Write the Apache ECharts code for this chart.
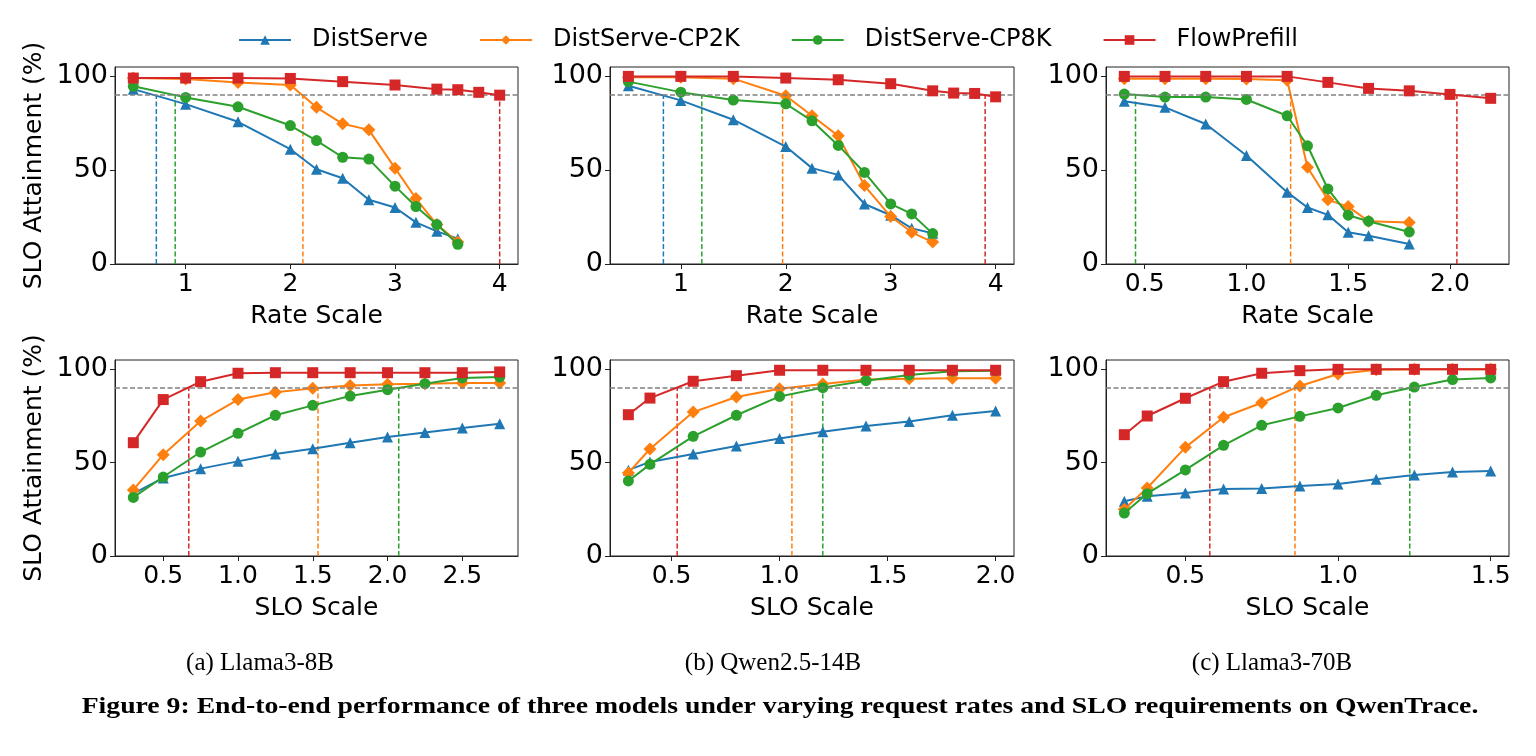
<!DOCTYPE html>
<html>
<head>
<meta charset="utf-8">
<script src="https://cdn.jsdelivr.net/npm/echarts@6.0.0/dist/echarts.min.js"></script>
<style>
  html, body { margin: 0; padding: 0; background: #fff; }
  #chart { width: 1536px; height: 756px; }
</style>
</head>
<body>
<div id="chart"></div>
<script>
// series names / colours (matplotlib tab10)
const names = ["DistServe", "DistServe-CP2K", "DistServe-CP8K", "FlowPrefill"];
const colors = ["#1f77b4", "#ff7f0e", "#2ca02c", "#d62728"];
const symbols = ["triangle", "diamond", "circle", "rect"];

// (a) Llama3-8B, rate scale
const xRate8B = [0.5, 1, 1.5, 2, 2.25, 2.5, 2.75, 3, 3.2, 3.4, 3.6];
const xRate8BFlow = [0.5, 1, 1.5, 2, 2.5, 3, 3.4, 3.6, 3.8, 4];
const distRate8B = [93.2, 85.2, 75.8, 61.2, 50.5, 45.7, 34.2, 30.1, 22.2, 17.4, 13.5];
const cp2kRate8B = [99.1, 98.6, 96.8, 95.4, 83.5, 74.7, 71.5, 51.1, 34.9, 21.0, 11.7];
const cp8kRate8B = [94.7, 88.8, 83.8, 73.8, 65.8, 56.9, 55.9, 41.5, 30.6, 21.0, 10.5];
const flowRate8B = [99.1, 99.1, 99.1, 98.9, 97.2, 95.4, 93.2, 92.9, 91.5, 90.0];
const kneeRate8B = [0.72, 2.12, 0.9, 4.0];

// (b) Qwen2.5-14B, rate scale
const xRate14B = [0.5, 1, 1.5, 2, 2.25, 2.5, 2.75, 3, 3.2, 3.4];
const xRate14BFlow = [0.5, 1, 1.5, 2, 2.5, 3, 3.4, 3.6, 3.8, 4];
const distRate14B = [95.0, 87.2, 76.9, 62.6, 51.1, 47.5, 32.0, 26.0, 19.0, 16.4];
const cp2kRate14B = [99.6, 99.5, 98.8, 89.7, 79.0, 68.3, 41.8, 25.3, 16.9, 11.7];
const cp8kRate14B = [97.2, 91.6, 87.4, 85.4, 76.3, 63.2, 48.8, 32.0, 26.7, 16.2];
const flowRate14B = [100, 100, 100, 99.1, 98.2, 96.1, 92.3, 91.1, 90.9, 89.1];
const kneeRate14B = [0.834, 1.97, 1.2, 3.9];

// (c) Llama3-70B, rate scale
const xRate70B = [0.4, 0.6, 0.8, 1.0, 1.2, 1.3, 1.4, 1.5, 1.6, 1.8];
const xRate70BFlow = [0.4, 0.6, 0.8, 1.0, 1.2, 1.4, 1.6, 1.8, 2.0, 2.2];
const distRate70B = [86.7, 83.5, 74.6, 57.8, 38.3, 30.1, 26.2, 16.9, 15.1, 10.7];
const cp2kRate70B = [98.8, 98.8, 98.8, 98.6, 97.9, 51.6, 34.2, 30.6, 22.8, 22.1];
const cp8kRate70B = [90.6, 89.0, 89.0, 87.7, 79.0, 63.0, 40.0, 26.0, 22.8, 17.1];
const flowRate70B = [100, 100, 100, 100, 100, 96.8, 93.6, 92.3, 90.4, 88.3];
const kneeRate70B = [null, 1.217, 0.455, 2.034];

// (a) Llama3-8B, SLO scale
const xSlo8B = [0.3, 0.5, 0.75, 1.0, 1.25, 1.5, 1.75, 2.0, 2.25, 2.5, 2.75];
const distSlo8B = [33.4, 41.8, 46.8, 50.7, 54.6, 57.5, 60.7, 63.8, 66.1, 68.6, 70.9];
const cp2kSlo8B = [35.4, 54.3, 72.3, 83.8, 87.7, 89.8, 91.4, 92.0, 92.3, 92.7, 92.7];
const cp8kSlo8B = [31.4, 42.3, 55.7, 65.7, 75.4, 80.7, 85.7, 89.1, 92.3, 95.4, 95.9];
const flowSlo8B = [60.7, 83.8, 93.4, 97.9, 98.2, 98.2, 98.2, 98.2, 98.2, 98.2, 98.6];
const kneeSlo8B = [null, 1.535, 2.075, 0.671];

// (b) Qwen2.5-14B, SLO scale
const xSlo14B = [0.3, 0.4, 0.6, 0.8, 1.0, 1.2, 1.4, 1.6, 1.8, 2.0];
const distSlo14B = [46.0, 50.4, 54.6, 58.9, 62.9, 66.6, 69.6, 72.1, 75.4, 77.7];
const cp2kSlo14B = [44.5, 57.3, 77.1, 85.2, 89.6, 92.1, 94.6, 95.0, 95.2, 95.2];
const cp8kSlo14B = [40.2, 49.1, 64.1, 75.4, 85.5, 90.2, 93.9, 97.0, 99.0, 99.3];
const flowSlo14B = [75.7, 84.6, 93.6, 96.6, 99.5, 99.5, 99.5, 99.5, 99.5, 99.5];
const kneeSlo14B = [null, 1.057, 1.2, 0.526];

// (c) Llama3-70B, SLO scale
const xSlo70B = [0.3, 0.375, 0.5, 0.625, 0.75, 0.875, 1.0, 1.125, 1.25, 1.375, 1.5];
const distSlo70B = [29.3, 32.0, 33.8, 35.9, 36.1, 37.5, 38.6, 41.1, 43.4, 45.0, 45.5];
const cp2kSlo70B = [25.0, 36.4, 58.2, 74.3, 82.1, 91.1, 97.5, 99.8, 100, 100, 100];
const cp8kSlo70B = [23.0, 33.4, 46.1, 59.3, 70.0, 74.8, 79.3, 86.1, 90.5, 94.5, 95.4];
const flowSlo70B = [65.0, 75.0, 84.5, 93.4, 97.9, 99.3, 100, 100, 100, 100, 100];
const kneeSlo70B = [null, 0.859, 1.235, 0.58];

// tick labels
const ticksRate = [1, 2, 3, 4];
const ticksRate70B = [0.5, 1.0, 1.5, 2.0];
const ticksSlo8B = [0.5, 1.0, 1.5, 2.0, 2.5];
const ticksSlo14B = [0.5, 1.0, 1.5, 2.0];
const ticksSlo70B = [0.5, 1.0, 1.5];
const yTicks = [0, 50, 100];
const target = 90;

const subCaptions = ["(a) Llama3-8B", "(b) Qwen2.5-14B", "(c) Llama3-70B"];
const caption = "Figure 9: End-to-end performance of three models under varying request rates and SLO requirements on QwenTrace.";

const panels = [
  { xs: [xRate8B, xRate8B, xRate8B, xRate8BFlow], ys: [distRate8B, cp2kRate8B, cp8kRate8B, flowRate8B], knee: kneeRate8B, ticks: ticksRate, dec: 0, xname: "Rate Scale" },
  { xs: [xRate14B, xRate14B, xRate14B, xRate14BFlow], ys: [distRate14B, cp2kRate14B, cp8kRate14B, flowRate14B], knee: kneeRate14B, ticks: ticksRate, dec: 0, xname: "Rate Scale" },
  { xs: [xRate70B, xRate70B, xRate70B, xRate70BFlow], ys: [distRate70B, cp2kRate70B, cp8kRate70B, flowRate70B], knee: kneeRate70B, ticks: ticksRate70B, dec: 1, xname: "Rate Scale" },
  { xs: [xSlo8B, xSlo8B, xSlo8B, xSlo8B], ys: [distSlo8B, cp2kSlo8B, cp8kSlo8B, flowSlo8B], knee: kneeSlo8B, ticks: ticksSlo8B, dec: 1, xname: "SLO Scale" },
  { xs: [xSlo14B, xSlo14B, xSlo14B, xSlo14B], ys: [distSlo14B, cp2kSlo14B, cp8kSlo14B, flowSlo14B], knee: kneeSlo14B, ticks: ticksSlo14B, dec: 1, xname: "SLO Scale" },
  { xs: [xSlo70B, xSlo70B, xSlo70B, xSlo70B], ys: [distSlo70B, cp2kSlo70B, cp8kSlo70B, flowSlo70B], knee: kneeSlo70B, ticks: ticksSlo70B, dec: 1, xname: "SLO Scale" },
];

const colLeft = [115, 610, 1106];
const colWidth = [403, 404, 403];
const rowTop = [67, 360];
const rowHeight = [197, 196];
const font = "DejaVu Sans";
const axisColor = "#222";

const grids = [], xAxes = [], yAxes = [], series = [];

panels.forEach((p, i) => {
  const row = Math.floor(i / 3), col = i % 3;
  grids.push({
    left: colLeft[col], top: rowTop[row], width: colWidth[col], height: rowHeight[row],
    show: true, borderColor: axisColor, borderWidth: 1, backgroundColor: "transparent",
  });

  // matplotlib-like 5% x margin
  const all = [].concat(...p.xs);
  const lo = Math.min(...all), hi = Math.max(...all), pad = (hi - lo) * 0.05;

  xAxes.push({
    type: "value", gridIndex: i, min: lo - pad, max: hi + pad,
    axisLine: { show: true, onZero: false, lineStyle: { color: axisColor, width: 1 } },
    axisTick: { show: true, length: 5, customValues: p.ticks, lineStyle: { color: axisColor } },
    axisLabel: { customValues: p.ticks, formatter: (v) => v.toFixed(p.dec), color: "#000", fontSize: 25, fontFamily: font, margin: 8 },
    splitLine: { show: false },
    name: p.xname, nameLocation: "middle", nameGap: 40,
    nameTextStyle: { color: "#000", fontSize: 25, fontFamily: font },
  });

  yAxes.push({
    type: "value", gridIndex: i, min: 0, max: 105,
    axisLine: { show: true, onZero: false, lineStyle: { color: axisColor, width: 1 } },
    axisTick: { show: true, length: 5, customValues: yTicks, lineStyle: { color: axisColor } },
    axisLabel: { customValues: yTicks, color: "#000", fontSize: 27, fontFamily: font, margin: 7 },
    splitLine: { show: false },
    name: col === 0 ? "SLO Attainment (%)" : "", nameLocation: "middle", nameGap: 68, nameRotate: 90,
    nameTextStyle: { color: "#000", fontSize: 25, fontFamily: font },
  });

  // knee markers: dashed verticals from 0 up to the 90% target
  p.knee.forEach((k, s) => {
    if (k == null) return;
    series.push({
      type: "line", xAxisIndex: i, yAxisIndex: i, data: [[k, 0], [k, target]],
      symbol: "none", silent: true, z: 1,
      lineStyle: { color: colors[s], width: 1.5, type: [5, 2.5] },
    });
  });

  names.forEach((n, s) => {
    series.push({
      name: n, type: "line", xAxisIndex: i, yAxisIndex: i,
      data: p.xs[s].map((x, j) => [x, p.ys[s][j]]),
      symbol: symbols[s], symbolSize: s === 1 ? 13 : 11,
      itemStyle: { color: colors[s], borderWidth: 0 },
      lineStyle: { color: colors[s], width: 2 },
      z: 2 + s,
      markLine: s === 0 ? {
        silent: true, symbol: "none", label: { show: false },
        lineStyle: { color: "#808080", width: 1.5, type: [5, 2.5] },
        data: [{ yAxis: target }],
      } : undefined,
    });
  });
});

const subX = [260, 773, 1272];

const chart = echarts.init(document.getElementById("chart"), null, { renderer: "canvas" });
chart.setOption({
  animation: false,
  backgroundColor: "#fff",
  legend: {
    data: names, top: 23, left: "center",
    itemWidth: 52, itemHeight: 12, itemGap: 51,
    textStyle: { color: "#000", fontSize: 24, fontFamily: font, padding: [0, 0, 0, 16] },
  },
  grid: grids, xAxis: xAxes, yAxis: yAxes, series: series,
  graphic: [
    ...subCaptions.map((t, c) => ({
      type: "text", x: subX[c], y: 663,
      style: { text: t, font: '25px "Liberation Serif"', fill: "#000", align: "center", verticalAlign: "middle", textAlign: "center", textVerticalAlign: "middle" },
    })),
    {
      type: "text", x: 780, y: 707, scaleX: 1.155,
      style: { text: caption, font: 'bold 24px "Liberation Serif"', fill: "#000", align: "center", verticalAlign: "middle", textAlign: "center", textVerticalAlign: "middle" },
    },
  ],
});
</script>
</body>
</html>
